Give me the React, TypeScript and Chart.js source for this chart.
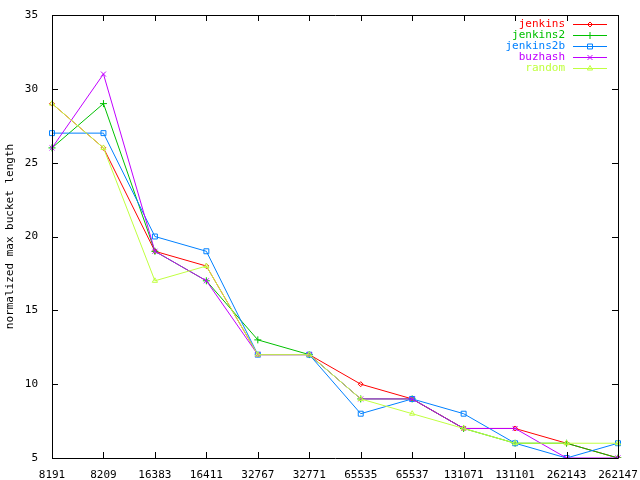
import React, { useEffect, useRef } from "react";
import { Chart, registerables } from "chart.js";

Chart.register(...registerables);

const categories = ["8191", "8209", "16383", "16411", "32767", "32771", "65535", "65537", "131071", "131101", "262143", "262147"];
const jenkins = [29, 26, 19, 18, 12, 12, 10, 9, 7, 7, 6, 5];
const jenkins2 = [26, 29, 19, 17, 13, 12, 9, 9, 7, 6, 6, 5];
const jenkins2b = [27, 27, 20, 19, 12, 12, 8, 9, 8, 6, 5, 6];
const buzhash = [26, 31, 19, 17, 12, 12, 9, 9, 7, 7, 5, 5];
const random = [29, 26, 17, 18, 12, 12, 9, 8, 7, 6, 6, 6];
const yTicks = [5, 10, 15, 20, 25, 30, 35];

const FONT = "'DejaVu Sans Mono', 'Liberation Mono', monospace";

const seriesDefs = [
  { label: "jenkins", data: jenkins, color: "#ff0000", style: "rectRot", radius: 2.5 },
  { label: "jenkins2", data: jenkins2, color: "#00c000", style: "cross", radius: 3.5 },
  { label: "jenkins2b", data: jenkins2b, color: "#0080ff", style: "rect", radius: 3.5 },
  { label: "buzhash", data: buzhash, color: "#c000ff", style: "crossRot", radius: 3.5 },
  { label: "random", data: random, color: "#c0ff40", style: "triangle", radius: 3 },
];

function marker(ctx: CanvasRenderingContext2D, style: string, r: number, x: number, y: number) {
  ctx.beginPath();
  if (style === "rectRot") {
    ctx.moveTo(x, y - r);
    ctx.lineTo(x + r, y);
    ctx.lineTo(x, y + r);
    ctx.lineTo(x - r, y);
    ctx.closePath();
  } else if (style === "cross") {
    ctx.moveTo(x - r, y);
    ctx.lineTo(x + r, y);
    ctx.moveTo(x, y - r);
    ctx.lineTo(x, y + r);
  } else if (style === "rect") {
    const s = r * Math.SQRT1_2;
    ctx.rect(x - s, y - s, 2 * s, 2 * s);
  } else if (style === "crossRot") {
    const s = r * Math.SQRT1_2;
    ctx.moveTo(x - s, y - s);
    ctx.lineTo(x + s, y + s);
    ctx.moveTo(x - s, y + s);
    ctx.lineTo(x + s, y - s);
  } else {
    ctx.moveTo(x, y - r);
    ctx.lineTo(x + r * 0.866, y + r * 0.5);
    ctx.lineTo(x - r * 0.866, y + r * 0.5);
    ctx.closePath();
  }
  ctx.stroke();
}

const framePlugin = {
  id: "gnuFrame",
  afterDatasetsDraw(chart: any) {
    const { ctx, chartArea: a, scales } = chart;
    ctx.save();
    ctx.strokeStyle = "#000";
    ctx.lineWidth = 1;
    ctx.beginPath();
    ctx.rect(Math.round(a.left) + 0.5, Math.round(a.top) + 0.5, Math.round(a.right - a.left), Math.round(a.bottom - a.top));
    const tl = 6;
    scales.x.ticks.forEach((_: any, i: number) => {
      const x = Math.round(scales.x.getPixelForTick(i)) + 0.5;
      ctx.moveTo(x, a.bottom);
      ctx.lineTo(x, a.bottom - tl);
      ctx.moveTo(x, a.top);
      ctx.lineTo(x, a.top + tl);
    });
    scales.y.ticks.forEach((_: any, i: number) => {
      const y = Math.round(scales.y.getPixelForTick(i)) + 0.5;
      ctx.moveTo(a.left, y);
      ctx.lineTo(a.left + tl, y);
      ctx.moveTo(a.right, y);
      ctx.lineTo(a.right - tl, y);
    });
    ctx.stroke();

    // legend
    ctx.font = "11px " + FONT;
    ctx.textAlign = "right";
    ctx.textBaseline = "middle";
    const textRight = 565;
    const x0 = 573;
    const x1 = 607;
    seriesDefs.forEach((s, i) => {
      const y = Math.round(23.5 + i * 11) + 0.5;
      ctx.fillStyle = s.color;
      ctx.fillText(s.label, textRight, y);
      ctx.strokeStyle = s.color;
      ctx.beginPath();
      ctx.moveTo(x0, y);
      ctx.lineTo(x1, y);
      ctx.stroke();
      marker(ctx, s.style, s.radius, (x0 + x1) / 2, y);
    });
    ctx.restore();
  },
};

export default function App() {
  const ref = useRef<HTMLCanvasElement>(null);
  useEffect(() => {
    if (!ref.current) return;
    const chart = new Chart(ref.current, {
      type: "line",
      data: {
        labels: categories,
        datasets: seriesDefs.map((s, i) => ({
          label: s.label,
          data: s.data,
          order: seriesDefs.length - 1 - i,
          borderColor: s.color,
          backgroundColor: s.color,
          borderWidth: 1,
          pointStyle: s.style as any,
          pointRadius: s.radius,
          pointBorderWidth: 1,
          pointBackgroundColor: "rgba(0,0,0,0)",
          tension: 0,
        })),
      },
      options: {
        responsive: false,
        animation: false,
        devicePixelRatio: 1,
        layout: { padding: { top: 15, right: 22, left: 4, bottom: 0 } },
        plugins: { legend: { display: false }, tooltip: { enabled: false } },
        scales: {
          x: {
            offset: false,
            grid: { display: false },
            border: { display: false },
            ticks: {
              color: "#000",
              font: { family: FONT, size: 11 },
              padding: 3,
              maxRotation: 0,
              autoSkip: false,
            },
            afterFit: (s: any) => {
              s.height = 22;
              s.paddingLeft = 0;
              s.paddingRight = 0;
            },
          },
          y: {
            min: 5,
            max: 35,
            grid: { display: false },
            border: { display: false },
            afterBuildTicks: (s: any) => {
              s.ticks = yTicks.map((v) => ({ value: v }));
            },
            ticks: {
              color: "#000",
              font: { family: FONT, size: 11 },
              padding: 6,
            },
            title: {
              display: true,
              text: "normalized max bucket length",
              color: "#000",
              font: { family: FONT, size: 11 },
              padding: 0,
            },
            afterFit: (s: any) => {
              s.width = 48;
              s.paddingTop = 0;
              s.paddingBottom = 0;
            },
          },
        },
      },
      plugins: [framePlugin],
    });
    return () => chart.destroy();
  }, []);
  return (
    <div style={{ position: "fixed", left: 0, top: 0, width: 640, height: 480, background: "#fff" }}>
      <canvas ref={ref} width={640} height={480} style={{ width: 640, height: 480 }} />
    </div>
  );
}
